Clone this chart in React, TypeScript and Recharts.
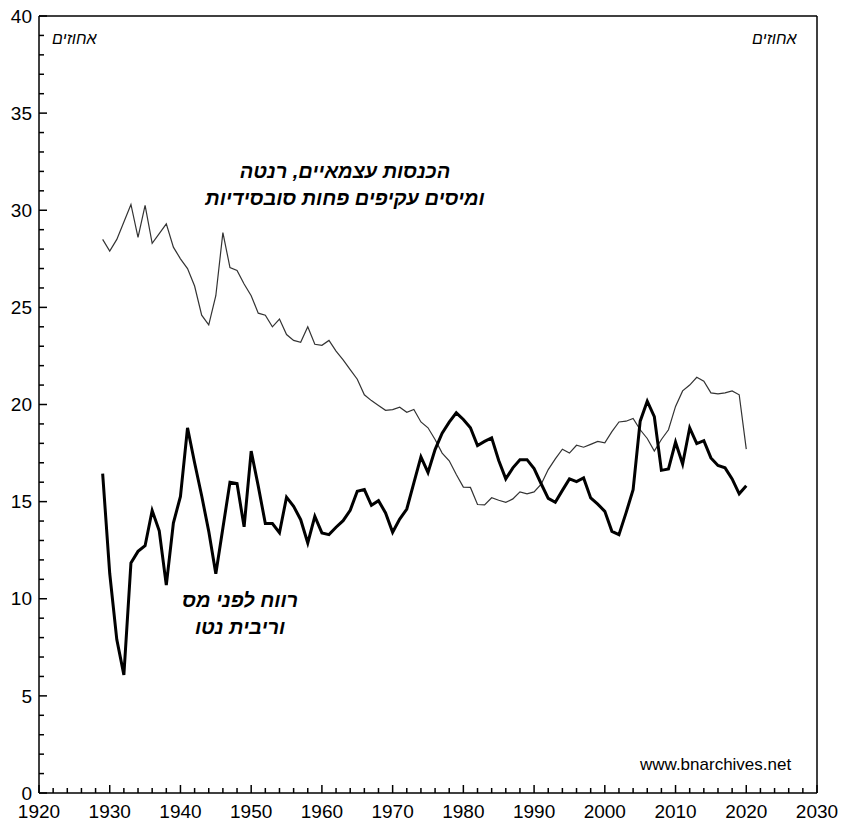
import React from "react";
import { ComposedChart, Line, ReferenceLine, XAxis, YAxis } from "recharts";

// years 1929..2020
const years: number[] = Array.from({ length: 92 }, (_, i) => 1929 + i);

// income of self-employed, rent and indirect taxes less subsidies (% of national income)
const incomeShare = [
  28.5, 27.9, 28.5, 29.4, 30.3, 28.6, 30.25, 28.3, 28.8, 29.3,
  28.1, 27.5, 27.0, 26.1, 24.6, 24.1, 25.6, 28.85, 27.05, 26.9,
  26.2, 25.6, 24.7, 24.6, 24.0, 24.4, 23.6, 23.3, 23.2, 24.0,
  23.1, 23.05, 23.3, 22.75, 22.3, 21.8, 21.3, 20.5, 20.2, 19.95,
  19.7, 19.74, 19.86, 19.6, 19.74, 19.1, 18.8, 18.2, 17.5, 17.1,
  16.4, 15.75, 15.73, 14.85, 14.83, 15.2, 15.07, 14.96, 15.14, 15.5,
  15.4, 15.5, 15.9, 16.65, 17.2, 17.7, 17.5, 17.9, 17.8, 17.95,
  18.1, 18.03, 18.6, 19.1, 19.14, 19.28, 18.7, 18.25, 17.6, 18.2,
  18.7, 19.9, 20.7, 21.0, 21.4, 21.2, 20.6, 20.55, 20.6, 20.7,
  20.5, 17.7,
];

// pretax profit and net interest (% of national income)
const profitShare = [
  16.44, 11.3, 7.9, 6.08, 11.84, 12.44, 12.73, 14.54, 13.5, 10.7,
  13.9, 15.27, 18.8, 17.0, 15.3, 13.47, 11.29, 13.64, 16.0, 15.93,
  13.7, 17.6, 15.8, 13.87, 13.87, 13.4, 15.23, 14.76, 14.07, 12.87,
  14.24, 13.39, 13.3, 13.68, 14.02, 14.55, 15.53, 15.62, 14.81, 15.05,
  14.42, 13.42, 14.1, 14.62, 15.96, 17.3, 16.5, 17.68, 18.52, 19.09,
  19.57, 19.23, 18.8, 17.89, 18.1, 18.28, 17.12, 16.17, 16.74, 17.16,
  17.16, 16.7, 15.92, 15.17, 14.97, 15.58, 16.17, 16.03, 16.22, 15.19,
  14.87, 14.5, 13.47, 13.3, 14.42, 15.62, 19.14, 20.17, 19.37, 16.61,
  16.68, 18.06, 16.94, 18.8, 17.99, 18.14, 17.25, 16.86, 16.74, 16.17,
  15.4, 15.82,
];

// every 2 years on x, every 1 point on y; labels only on the round ones
const xTicks = Array.from({ length: 56 }, (_, i) => 1920 + i * 2);
const yTicks = Array.from({ length: 41 }, (_, i) => i);

const data = years.map((year, i) => ({
  year,
  income: incomeShare[i],
  profit: profitShare[i],
}));

const FONT = "'Liberation Sans', Arial, sans-serif";
const TICK_W = 1.5;

function BottomTick(props: any) {
  const { x, y, payload } = props;
  const v = payload.value as number;
  const major = v % 10 === 0;
  return (
    <g>
      <line x1={x} y1={y} x2={x} y2={y - (major ? 8 : 5)} stroke="#000" strokeWidth={TICK_W} />
      {major && (
        <text x={x} y={y + 25} textAnchor="middle" fontSize={19} fontFamily={FONT} fill="#000">
          {v}
        </text>
      )}
    </g>
  );
}

function LeftTick(props: any) {
  const { x, y, payload } = props;
  const v = payload.value as number;
  const major = v % 5 === 0;
  return (
    <g>
      <line x1={x} y1={y} x2={x + (major ? 8 : 5)} y2={y} stroke="#000" strokeWidth={TICK_W} />
      {major && (
        <text x={x - 7} y={y} dy="0.35em" textAnchor="end" fontSize={19} fontFamily={FONT} fill="#000">
          {v}
        </text>
      )}
    </g>
  );
}

function RightTick(props: any) {
  const { x, y, payload } = props;
  const v = payload.value as number;
  const major = v % 5 === 0;
  return (
    <g>
      <line x1={x} y1={y} x2={x - (major ? 8 : 5)} y2={y} stroke="#000" strokeWidth={TICK_W} />
      {major && (
        <text x={x + 11} y={y} dy="0.35em" textAnchor="start" fontSize={19} fontFamily={FONT} fill="#000">
          {v}
        </text>
      )}
    </g>
  );
}

const labelStyle: React.CSSProperties = {
  position: "absolute",
  fontFamily: FONT,
  fontWeight: "bold",
  fontStyle: "italic",
  fontSize: 20,
  lineHeight: "27px",
  textAlign: "center",
  direction: "rtl",
  color: "#000",
  whiteSpace: "nowrap",
  transform: "translateX(-50%)",
};

const unitStyle: React.CSSProperties = {
  position: "absolute",
  top: 30,
  fontFamily: FONT,
  fontStyle: "italic",
  fontSize: 16,
  direction: "rtl",
};

export default function App() {
  return (
    <div style={{ position: "absolute", left: 0, top: 0, width: 856, height: 824, background: "#fff" }}>
      <ComposedChart width={856} height={824} data={data} margin={{ top: 16, right: 0, left: 0, bottom: 0 }}>
        <XAxis
          dataKey="year"
          type="number"
          domain={[1920, 2030]}
          ticks={xTicks}
          interval={0}
          height={31}
          tickSize={0}
          tickMargin={0}
          tickLine={false}
          axisLine={{ stroke: "#000", strokeWidth: 1.5 }}
          tick={<BottomTick />}
        />
        <YAxis
          yAxisId="left"
          domain={[0, 40]}
          ticks={yTicks}
          interval={0}
          width={39}
          tickSize={0}
          tickMargin={0}
          tickLine={false}
          axisLine={{ stroke: "#000", strokeWidth: 1.5 }}
          tick={<LeftTick />}
        />
        <YAxis
          yAxisId="right"
          orientation="right"
          domain={[0, 40]}
          ticks={yTicks}
          interval={0}
          width={39}
          tickSize={0}
          tickMargin={0}
          tickLine={false}
          axisLine={{ stroke: "#000", strokeWidth: 1.5 }}
          tick={<RightTick />}
        />
        {/* top edge of the frame */}
        <ReferenceLine yAxisId="left" y={40} stroke="#000" strokeWidth={1.5} ifOverflow="visible" />
        <Line
          yAxisId="left"
          type="linear"
          dataKey="income"
          stroke="#333"
          strokeWidth={1.2}
          dot={false}
          isAnimationActive={false}
        />
        <Line
          yAxisId="left"
          type="linear"
          dataKey="profit"
          stroke="#000"
          strokeWidth={3}
          dot={false}
          isAnimationActive={false}
        />
      </ComposedChart>

      <div style={{ ...labelStyle, left: 345, top: 158 }}>
        הכנסות עצמאיים, רנטה
        <br />
        ומיסים עקיפים פחות סובסידיות
      </div>
      <div style={{ ...labelStyle, left: 240, top: 587 }}>
        רווח לפני מס
        <br />
        וריבית נטו
      </div>
      <div style={{ ...unitStyle, left: 52 }}>אחוזים</div>
      <div style={{ ...unitStyle, left: 752 }}>אחוזים</div>
      <div style={{ position: "absolute", left: 640, top: 755, fontFamily: FONT, fontSize: 17 }}>
        www.bnarchives.net
      </div>
    </div>
  );
}
